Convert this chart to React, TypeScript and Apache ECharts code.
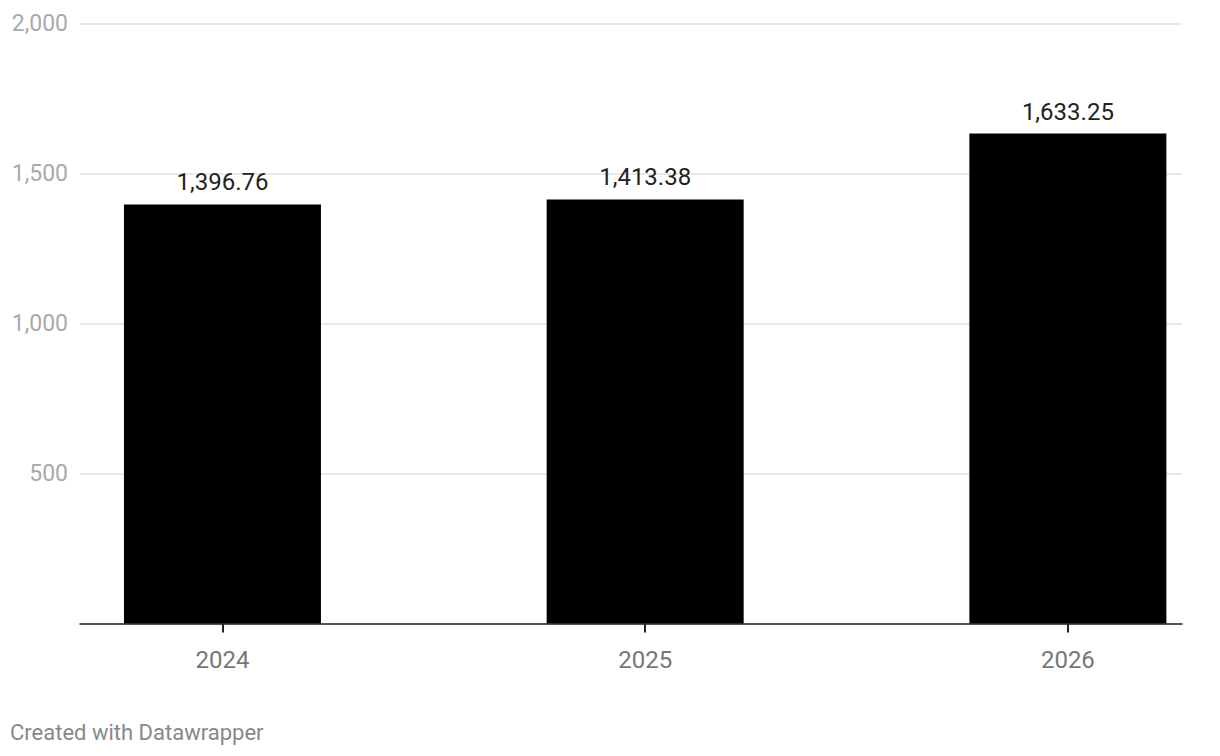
import React, { useEffect, useRef } from "react";
import * as echarts from "echarts";

const categories = ["2024", "2025", "2026"];
const values = [1396.76, 1413.38, 1633.25];
const yTicks = [500, 1000, 1500, 2000];

const fmt = (v: number, d: number) =>
  v.toLocaleString("en-US", { minimumFractionDigits: d, maximumFractionDigits: d });

export default function App() {
  const ref = useRef<HTMLDivElement>(null);
  useEffect(() => {
    if (!ref.current) return;
    const chart = echarts.init(ref.current, null, { renderer: "svg" });
    const idx = categories.map((_, i) => i);
    chart.setOption({
      animation: false,
      textStyle: { fontFamily: "Roboto" },
      grid: { left: 80, right: 38, top: 23.5, bottom: 132.5 },
      xAxis: {
        type: "value",
        min: -0.337,
        max: 2.27,
        splitLine: { show: false },
        axisLine: { show: true, onZero: false, lineStyle: { color: "#222", width: 1.5 } },
        axisTick: { show: true, customValues: idx, length: 9, lineStyle: { color: "#222", width: 2 } },
        axisLabel: {
          customValues: idx,
          formatter: (v: number) => categories[Math.round(v)] ?? "",
          color: "#777",
          fontSize: 24,
          margin: 24,
          fontFamily: "Roboto",
        },
      },
      yAxis: {
        type: "value",
        min: 0,
        max: 2000,
        interval: 500,
        axisLine: { show: false },
        axisTick: { show: false },
        splitLine: { lineStyle: { color: "#e2e2e2", width: 1.5 } },
        axisLabel: {
          customValues: yTicks,
          formatter: (v: number) => fmt(v, 0),
          color: "#aaa",
          fontSize: 23,
          margin: 12,
          fontFamily: "Roboto",
        },
      },
      series: [
        {
          type: "bar",
          barWidth: 197,
          clip: false,
          itemStyle: { color: "#000" },
          data: values.map((v, i) => [i, v]),
          label: {
            show: true,
            position: "top",
            distance: 10,
            color: "#222",
            fontSize: 24,
            fontFamily: "Roboto",
            formatter: (p: any) => fmt(p.value[1], 2),
          },
        },
      ],
      graphic: [
        {
          type: "text",
          left: 10,
          top: 721,
          style: { text: "Created with Datawrapper", fill: "#888", fontSize: 22, fontFamily: "Roboto" },
        },
      ],
    });
    return () => chart.dispose();
  }, []);
  return (
    <div
      ref={ref}
      style={{ position: "fixed", left: 0, top: 0, width: 1220, height: 756, background: "#fff" }}
    />
  );
}
